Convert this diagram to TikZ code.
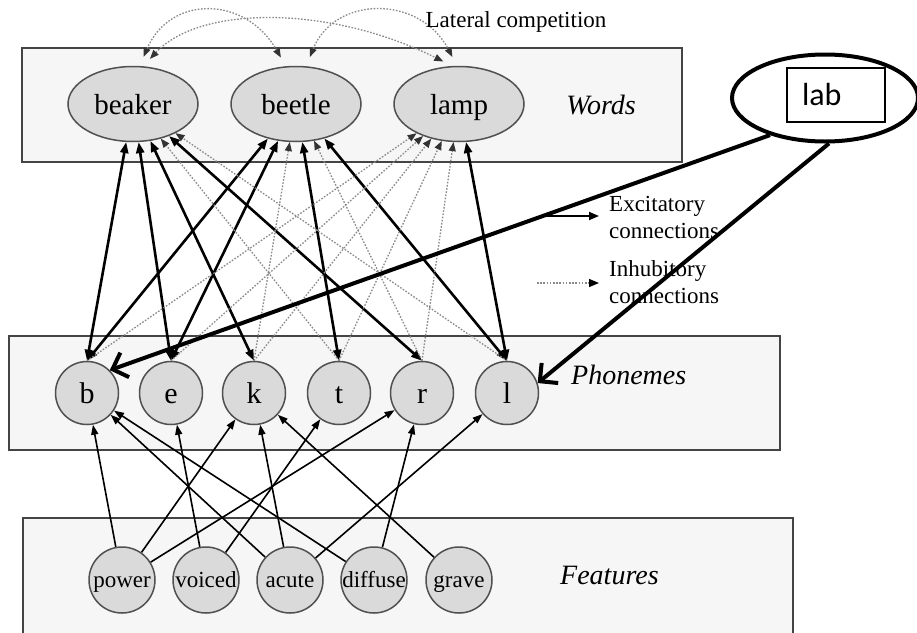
\documentclass[tikz,border=0pt]{standalone}
\usepackage{fontspec}
\setmainfont{Liberation Serif}
\newfontfamily\labfont{Carlito}
\usetikzlibrary{arrows.meta,shapes.geometric}
\pgfdeclarelayer{bg}
\pgfdeclarelayer{edges}
\pgfdeclarelayer{top}
\pgfsetlayers{bg,edges,main,top}
\definecolor{boxfill}{HTML}{F6F6F6}
\definecolor{boxline}{HTML}{444444}
\definecolor{nodefill}{HTML}{DADADA}
\definecolor{nodeline}{HTML}{505050}
\definecolor{inhcol}{HTML}{8A8A8A}
\definecolor{inhtip}{HTML}{333333}
\begin{document}
\begin{tikzpicture}[x=1pt,y=-1pt,
  layerbox/.style={draw=boxline,fill=boxfill,line width=1.8pt},
  wordnode/.style={ellipse,draw=nodeline,fill=nodefill,line width=1.5pt,minimum width=130pt,minimum height=75pt,inner sep=0pt,text height=20pt,text depth=0pt,font=\fontsize{29}{31}\selectfont},
  phonnode/.style={circle,draw=nodeline,fill=nodefill,line width=1.5pt,minimum size=63pt,inner sep=0pt,text height=21pt,text depth=0pt,font=\fontsize{30}{32}\selectfont},
  featnode/.style={circle,draw=nodeline,fill=nodefill,line width=1.5pt,minimum size=66pt,inner sep=0pt,text height=16pt,text depth=2pt,font=\fontsize{23}{25}\selectfont},
  layername/.style={font=\fontsize{28}{30}\selectfont\itshape,inner sep=0pt},
  legendtext/.style={font=\fontsize{23}{25}\selectfont,anchor=west,inner sep=0pt},
  exc/.style={line width=2.6pt,>={Triangle[length=11pt,width=8pt]},<->},
  inh/.style={draw=inhcol,line width=1.3pt,dash pattern=on 1.6pt off 1.6pt,-{Triangle[length=9pt,width=7pt,color=inhtip]}},
  lat/.style={draw=inhcol,line width=1.3pt,dash pattern=on 1.6pt off 1.6pt,>={Triangle[length=9pt,width=7pt,color=inhtip]},<->,shorten <=10pt,shorten >=10pt},
  ftr/.style={line width=1.6pt,-{Triangle[length=10pt,width=7pt]}},
  legexc/.style={line width=1.8pt,-{Triangle[length=10pt,width=8pt]}},
  leginh/.style={draw=inhcol,line width=1.3pt,dash pattern=on 1.6pt off 1.6pt,-{Triangle[length=10pt,width=8pt,color=black]}},
  labarrow/.style={line width=4pt,-{Straight Barb[length=13pt,width=26pt]}}
]
\useasboundingbox (0,0) rectangle (917,632);
\clip (0,0) rectangle (917,632);

\begin{pgfonlayer}{bg}
  \fill[white] (0,0) rectangle (917,632);
  \draw[layerbox] (22,48) rectangle (682,162);
  \draw[layerbox] (9,336) rectangle (780,450);
  \draw[layerbox] (23,518) rectangle (793,650);
\end{pgfonlayer}

% word units
\node[wordnode] (beaker) at (133,104) {beaker};
\node[wordnode] (beetle) at (296,104) {beetle};
\node[wordnode] (lamp) at (459,104) {lamp};
\node[layername] (wordsl) at (601,105) {Words};
\node[font=\fontsize{23}{25}\selectfont,inner sep=0pt] (latl) at (516,22) {Lateral competition};

% phoneme units
\node[phonnode] (b) at (87,393) {b};
\node[phonnode] (e) at (171,393) {e};
\node[phonnode] (k) at (254,393) {k};
\node[phonnode] (t) at (339,393) {t};
\node[phonnode] (r) at (422,393) {r};
\node[phonnode] (l) at (507,393) {l};
\node[layername,anchor=west] (phonl) at (571,375) {Phonemes};

% feature units
\node[featnode] (power) at (122,580) {\makebox[0pt]{power}};
\node[featnode] (voiced) at (206,580) {\makebox[0pt]{voiced}};
\node[featnode] (acute) at (290,580) {\makebox[0pt]{acute}};
\node[featnode] (diffuse) at (374,580) {\makebox[0pt]{diffuse}};
\node[featnode] (grave) at (459,580) {\makebox[0pt]{grave}};
\node[layername,anchor=west] (featl) at (560,575) {Features};

% legend
\coordinate (exs) at (540,216);
\coordinate (exe) at (599,216);
\coordinate (ins) at (537,283);
\coordinate (ine) at (599,283);
\node[legendtext] (exc1) at (609,206) {Excitatory};
\node[legendtext] (exc2) at (609,231) {connections};
\node[legendtext] (inh1) at (609,271) {Inhubitory};
\node[legendtext] (inh2) at (609,296) {connections};

% lab
\node[ellipse,draw,line width=4pt,minimum width=186pt,minimum height=87pt,inner sep=0pt] (lab) at (825,98) {};
\node[draw,line width=2.4pt,minimum width=98pt,minimum height=54pt,inner sep=0pt,font=\labfont\fontsize{32}{34}\selectfont] (labbox) at (836,95) {\makebox[68pt][l]{lab}};

\begin{pgfonlayer}{edges}
  % excitatory word-phoneme
  \draw[exc] (b.north) -- (beaker);
  \draw[exc] (e.north) -- (beaker);
  \draw[exc] (k.north) -- (beaker);
  \draw[exc] (r.north) -- (beaker);
  \draw[exc] (b.north) -- (beetle);
  \draw[exc] (e.north) -- (beetle);
  \draw[exc] (t.north) -- (beetle);
  \draw[exc] (l.north) -- (beetle);
  \draw[exc] (l.north) -- (lamp);
  % inhibitory word-phoneme
  \draw[inh] (t.north) -- (beaker);
  \draw[inh] (l.north) -- (beaker);
  \draw[inh] (k.north) -- (beetle);
  \draw[inh] (r.north) -- (beetle);
  \draw[inh] (b.north) -- (lamp);
  \draw[inh] (e.north) -- (lamp);
  \draw[inh] (k.north) -- (lamp);
  \draw[inh] (t.north) -- (lamp);
  \draw[inh] (r.north) -- (lamp);
  % lateral competition
  \draw[lat] (beaker.80) .. controls (170,-5) and (245,-5) .. (beetle.105);
  \draw[lat] (beetle.75) .. controls (335,-5) and (420,-5) .. (lamp.93);
  \draw[lat] (beaker.75) .. controls (200,5) and (330,5) .. (lamp.100);
  % features to phonemes
  \draw[ftr] (power) -- (b);
  \draw[ftr] (power) -- (k);
  \draw[ftr] (power) -- (r);
  \draw[ftr] (voiced) -- (e);
  \draw[ftr] (voiced) -- (t);
  \draw[ftr] (acute) -- (b);
  \draw[ftr] (acute) -- (k);
  \draw[ftr] (acute) -- (l);
  \draw[ftr] (diffuse) -- (b);
  \draw[ftr] (diffuse) -- (r);
  \draw[ftr] (grave) -- (k);
  % legend arrows
  \draw[legexc] (exs) -- (exe);
  \draw[leginh] (ins) -- (ine);
\end{pgfonlayer}

\begin{pgfonlayer}{top}
  \draw[labarrow] (lab.214) -- (b.45);
  \draw[labarrow] (lab.-85) -- (l.18);
\end{pgfonlayer}
\end{tikzpicture}
\end{document}
